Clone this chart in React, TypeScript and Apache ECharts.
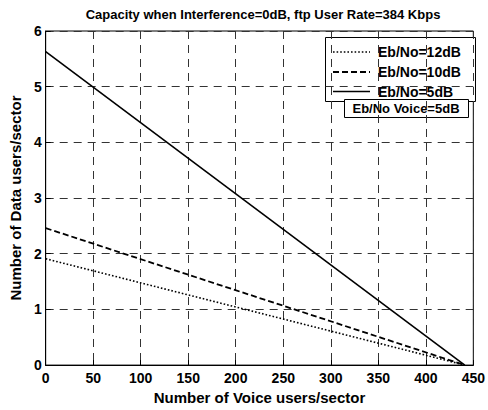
import React, { useEffect, useRef } from "react";
import * as echarts from "echarts";

const titleText = "Capacity when Interference=0dB, ftp User Rate=384 Kbps";
const xName = "Number of Voice users/sector";
const yName = "Number of Data users/sector";
const voiceUsers = [0, 441];
const eb12 = [1.91, 0];
const eb10 = [2.46, 0];
const eb5 = [5.63, 0];
const seriesNames = ["Eb/No=12dB", "Eb/No=10dB", "Eb/No=5dB"];
const noteText = "Eb/No Voice=5dB";

const FONT = "'Liberation Sans', Arial, Helvetica, sans-serif";
const lineTypes: any[] = [[1.6, 2], [6, 3], "solid"];
const lineWidths = [1.6, 1.8, 1.6];

export default function App() {
  const ref = useRef<HTMLDivElement>(null);
  useEffect(() => {
    if (!ref.current) return;
    const chart = echarts.init(ref.current, null, { renderer: "svg" });
    const mk = (vals: number[]) => voiceUsers.map((x, i) => [x, vals[i]]);
    const rowY = [52, 72, 91.5];
    const legendChildren: any[] = [
      {
        type: "rect",
        shape: { x: 325.5, y: 37.5, width: 150, height: 64 },
        style: { fill: "#fff", stroke: "#000", lineWidth: 1 },
      },
    ];
    seriesNames.forEach((n, i) => {
      legendChildren.push({
        type: "line",
        shape: { x1: 333, y1: rowY[i], x2: 370, y2: rowY[i] },
        style: {
          stroke: "#000",
          lineWidth: lineWidths[i],
          lineDash: lineTypes[i] === "solid" ? null : lineTypes[i],
        },
      });
      legendChildren.push({
        type: "text",
        x: 378,
        y: rowY[i],
        style: {
          text: n,
          fill: "#000",
          fontSize: 14,
          fontWeight: "bold",
          fontFamily: FONT,
          align: "left",
          verticalAlign: "middle",
        },
      });
    });
    chart.setOption({
      animation: false,
      backgroundColor: "#fff",
      textStyle: { fontFamily: FONT },
      title: {
        text: titleText,
        left: 263,
        textAlign: "center",
        top: 8,
        padding: 0,
        textStyle: { fontSize: 13, fontWeight: "bold", color: "#000", fontFamily: FONT },
      },
      grid: {
        left: 43,
        right: 12,
        top: 31,
        bottom: 42,
        show: true,
        borderColor: "#000",
        borderWidth: 1,
        backgroundColor: "#fff",
      },
      xAxis: {
        type: "value",
        min: 0,
        max: 450,
        interval: 50,
        name: xName,
        nameLocation: "middle",
        nameGap: 23,
        nameTextStyle: { fontSize: 15, fontWeight: "bold", color: "#000", fontFamily: FONT },
        axisLine: { show: true, onZero: false, lineStyle: { color: "#000", width: 1 } },
        axisTick: { show: true, inside: true, length: 5, lineStyle: { color: "#000" } },
        axisLabel: { margin: 6, fontSize: 14, fontWeight: "bold", color: "#000", fontFamily: FONT },
        splitLine: { show: true, lineStyle: { color: "#333", width: 1, type: [8, 6] } },
      },
      yAxis: {
        type: "value",
        min: 0,
        max: 6,
        interval: 1,
        name: yName,
        nameLocation: "middle",
        nameGap: 20,
        nameTextStyle: { fontSize: 15, fontWeight: "bold", color: "#000", fontFamily: FONT },
        axisLine: { show: true, onZero: false, lineStyle: { color: "#000", width: 1 } },
        axisTick: { show: true, inside: true, length: 5, lineStyle: { color: "#000" } },
        axisLabel: { margin: 4, fontSize: 14, fontWeight: "bold", color: "#000", fontFamily: FONT },
        splitLine: { show: true, lineStyle: { color: "#333", width: 1, type: [8, 6] } },
      },
      graphic: [
        { type: "group", z: 100, children: legendChildren },
        {
          type: "group",
          z: 110,
          children: [
            {
              type: "rect",
              shape: { x: 344.5, y: 99.5, width: 124, height: 18 },
              style: { fill: "#fff", stroke: "#000", lineWidth: 1 },
            },
            {
              type: "text",
              x: 406,
              y: 108.5,
              style: {
                text: noteText,
                fill: "#000",
                fontSize: 13,
                fontWeight: "bold",
                fontFamily: FONT,
                align: "center",
                verticalAlign: "middle",
              },
            },
          ],
        },
      ],
      series: seriesNames.map((n, i) => ({
        name: n,
        type: "line",
        data: mk([eb12, eb10, eb5][i]),
        symbol: "none",
        lineStyle: { color: "#000", width: lineWidths[i], type: lineTypes[i] },
        itemStyle: { color: "#000" },
      })),
    });
    return () => chart.dispose();
  }, []);
  return (
    <div
      ref={ref}
      style={{ position: "fixed", left: 0, top: 0, width: 488, height: 410, background: "#fff" }}
    />
  );
}
